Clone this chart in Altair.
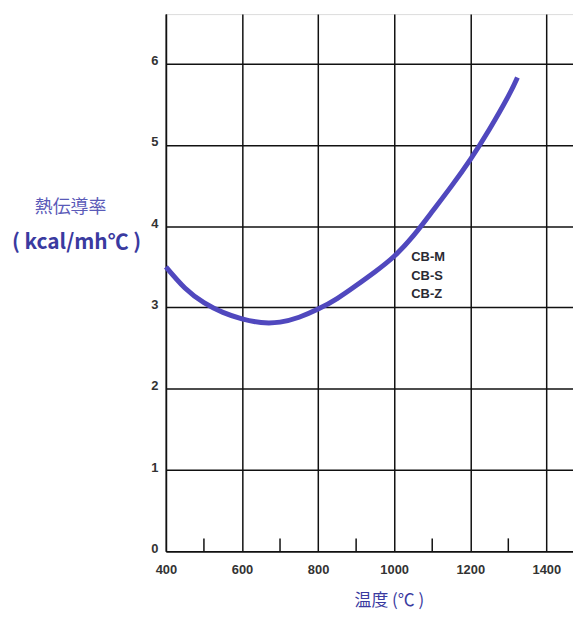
import altair as alt
import pandas as pd

# data
temps = [400, 450, 500, 550, 600, 650, 700, 750, 800, 850, 900, 950, 1000, 1050, 1100, 1150, 1200, 1250, 1300, 1324]
conductivity = [3.50, 3.24, 3.06, 2.94, 2.86, 2.815, 2.82, 2.88, 2.98, 3.11, 3.27, 3.44, 3.63, 3.88, 4.18, 4.49, 4.82, 5.19, 5.60, 5.83]
x_ticks = [400, 600, 800, 1000, 1200, 1400]
x_minor = [500, 700, 900, 1100, 1300]
y_ticks = [0, 1, 2, 3, 4, 5, 6]
grade_labels = ["CB-M", "CB-S", "CB-Z"]
grade_x = [1045, 1045, 1045]
grade_y = [3.62, 3.39, 3.16]

X_DOMAIN = [400, 1470]
Y_DOMAIN = [0, 6.61]
W, H = 410, 541
BLUE = "#5048be"

curve_df = pd.DataFrame({"t": temps, "k": conductivity})
minor_df = pd.DataFrame({"t": x_minor})
label_df = pd.DataFrame({"t": grade_x, "k": grade_y, "lab": grade_labels})

xs = alt.Scale(domain=X_DOMAIN, nice=False, zero=False)
ys = alt.Scale(domain=Y_DOMAIN, nice=False, zero=False)

base_axis = dict(grid=True, gridColor="#111111", gridWidth=1.5, gridOpacity=1,
                 domainColor="#111111", domainWidth=1.5, ticks=False, format="d",
                 labelFlush=False, labelOverlap=False,
                 labelFont="Liberation Sans", labelFontSize=13, labelFontWeight="bold",
                 labelColor="#333333", title=None)

curve = alt.Chart(curve_df).mark_line(color=BLUE, strokeWidth=5, interpolate="natural").encode(
    x=alt.X("t:Q", scale=xs, axis=alt.Axis(values=x_ticks, labelPadding=12, **base_axis)),
    y=alt.Y("k:Q", scale=ys, axis=alt.Axis(values=y_ticks, labelPadding=8, labelOffset=-3, **base_axis)),
)

minor = alt.Chart(minor_df).mark_rule(color="#111111", strokeWidth=1.5).encode(
    x=alt.X("t:Q", scale=xs),
    y=alt.value(H),
    y2=alt.value(H - 13),
)

grades = alt.Chart(label_df).mark_text(align="left", baseline="middle", font="Liberation Sans",
                                       fontSize=13, fontWeight="bold", color="#2a2a33").encode(
    x=alt.X("t:Q", scale=xs),
    y=alt.Y("k:Q", scale=ys),
    text="lab:N",
)

title_df = pd.DataFrame({"a": [0]})
ytitle1 = alt.Chart(title_df).mark_text(text="熱伝導率", font="Noto Sans CJK JP", fontSize=18,
                                         color="#5a5ab8", align="center", baseline="middle").encode(
    x=alt.value(-96), y=alt.value(195))
ytitle2 = alt.Chart(title_df).mark_text(text="( kcal/mh℃ )", font="Liberation Sans Narrow, Noto Sans CJK JP",
                                         fontSize=21, fontWeight="bold",
                                         color="#3a3aa0", align="center", baseline="middle").encode(
    x=alt.value(-90), y=alt.value(231))
xtitle = alt.Chart(title_df).mark_text(text="温度 (℃ )", font="Noto Sans CJK JP", fontSize=17,
                                        color="#3a3aa0", align="center", baseline="middle").encode(
    x=alt.value(225), y=alt.value(591))

chart = alt.layer(curve, minor, grades, ytitle1, ytitle2, xtitle).properties(
    width=W, height=H,
    autosize=alt.AutoSizeParams(type="none"),
    padding={"left": 159, "top": 4, "right": 0, "bottom": 58},
).configure_view(stroke="#111111", strokeWidth=1.5).configure(background="white")

chart.save("out.html", embed_options={"renderer": "svg", "actions": False})
